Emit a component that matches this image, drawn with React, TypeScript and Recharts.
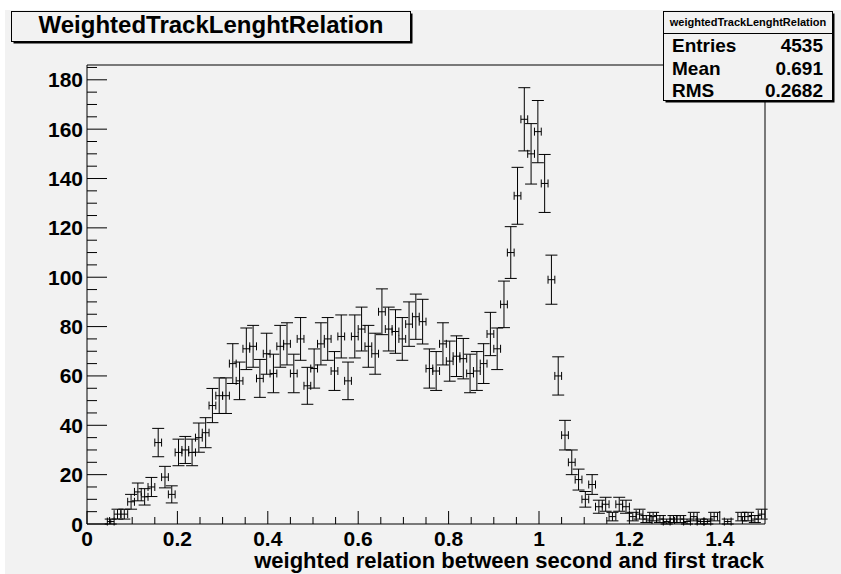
import React from 'react';
import { ScatterChart, Scatter, XAxis, YAxis, ErrorBar, ReferenceArea } from 'recharts';

// histogram settings: 100 bins between 0 and 1.5
const xMin = 0;
const xMax = 1.5;
const binWidth = 0.015;

// bin contents (bin 0 .. bin 99)
const counts = [
  0, 0, 0, 1, 4, 4, 9, 13, 11, 15,
  33, 19, 12, 29, 30, 29, 35, 37, 48, 52,
  52, 65, 58, 71, 72, 59, 69, 61, 72, 73,
  61, 75, 56, 63, 73, 75, 62, 76, 58, 76,
  79, 72, 69, 86, 79, 78, 75, 81, 84, 82,
  63, 62, 73, 66, 68, 67, 61, 62, 65, 77,
  71, 89, 110, 133, 164, 150, 159, 138, 99, 60,
  36, 25, 18, 10, 16, 7, 8, 3, 8, 7,
  3, 4, 2, 3, 2, 1, 2, 2, 1, 3,
  1, 1, 3, 0, 1, 0, 3, 3, 2, 4,
];

const xMajorValues = [0, 0.2, 0.4, 0.6, 0.8, 1, 1.2, 1.4];
const xMajorLabels = ['0', '0.2', '0.4', '0.6', '0.8', '1', '1.2', '1.4'];
const yMajorValues = [0, 20, 40, 60, 80, 100, 120, 140, 160, 180];
const yMajorLabels = ['0', '20', '40', '60', '80', '100', '120', '140', '160', '180'];
const yMax = 186;

const statsLabels = ['Entries', 'Mean', 'RMS'];
const statsValues = ['4535', '0.691', '0.2682'];

const title = 'WeightedTrackLenghtRelation';
const statsTitle = 'weightedTrackLenghtRelation';
const xTitle = 'weighted relation between second and first track';

const FONT = '"Liberation Sans", Arial, Helvetica, sans-serif';
const BG = '#f2f2f2';
const PLOT_LEFT = 87;
const PLOT_BOTTOM = 524;

// minor ticks every 0.05 on x, every 5 on y
const xTicks: number[] = [];
for (let i = 0; i < 30; i++) xTicks.push(Math.round(i * 5) / 100);
const yTicks: number[] = [];
for (let v = 0; v <= 185; v += 5) yTicks.push(v);

const points = counts
  .map((n, i) => ({
    x: xMin + binWidth * (i + 0.5),
    y: n,
    ey: Math.sqrt(n),
    ex: binWidth / 2,
  }))
  .filter((p) => p.y > 0);

const findMajor = (values: number[], v: number) =>
  values.findIndex((m) => Math.abs(m - v) < 1e-6);

const XTick = (props: any) => {
  const { x, payload } = props;
  const idx = findMajor(xMajorValues, payload.value);
  const len = idx >= 0 ? 13 : 7;
  return (
    <g>
      <line x1={x} x2={x} y1={PLOT_BOTTOM} y2={PLOT_BOTTOM - len} stroke="#000" strokeWidth={1} />
      {idx >= 0 && (
        <text x={x} y={PLOT_BOTTOM + 22} textAnchor="middle" fontFamily={FONT} fontWeight="bold" fontSize={21} fill="#000">
          {xMajorLabels[idx]}
        </text>
      )}
    </g>
  );
};

const YTick = (props: any) => {
  const { y, payload } = props;
  const idx = findMajor(yMajorValues, payload.value);
  const len = idx >= 0 ? 20 : 10;
  return (
    <g>
      <line x1={PLOT_LEFT} x2={PLOT_LEFT + len} y1={y} y2={y} stroke="#000" strokeWidth={1} />
      {idx >= 0 && (
        <text x={PLOT_LEFT - 4} y={y + 7.5} textAnchor="end" fontFamily={FONT} fontWeight="bold" fontSize={21} fill="#000">
          {yMajorLabels[idx]}
        </text>
      )}
    </g>
  );
};

const Overlay: React.FC = () => (
  <svg width={841} height={574} style={{ position: 'absolute', left: 0, top: 0, pointerEvents: 'none' }}>
    {/* title box */}
    <rect x={13.5} y={13.5} width={399} height={30} fill="#000" />
    <rect x={11.5} y={11.5} width={399} height={30} fill={BG} stroke="#000" strokeWidth={1} />
    <text x={211} y={32.5} textAnchor="middle" fontFamily={FONT} fontWeight="bold" fontSize={24} fill="#000">
      {title}
    </text>
    {/* stats box */}
    <rect x={665.5} y={13.5} width={169} height={89} fill="#000" />
    <rect x={663.5} y={11.5} width={169} height={89} fill={BG} stroke="#000" strokeWidth={1} />
    <line x1={663.5} x2={832.5} y1={33.5} y2={33.5} stroke="#000" strokeWidth={1} />
    <text x={748} y={26} textAnchor="middle" fontFamily={FONT} fontWeight="bold" fontSize={11} fill="#000">
      {statsTitle}
    </text>
    {statsLabels.map((label, i) => (
      <g key={label}>
        <text x={672} y={52 + i * 22.5} fontFamily={FONT} fontWeight="bold" fontSize={19} fill="#000">
          {label}
        </text>
        <text x={823} y={52 + i * 22.5} textAnchor="end" fontFamily={FONT} fontWeight="bold" fontSize={19} fill="#000">
          {statsValues[i]}
        </text>
      </g>
    ))}
    {/* x axis title */}
    <text x={764} y={568} textAnchor="end" fontFamily={FONT} fontWeight="bold" fontSize={22} fill="#000">
      {xTitle}
    </text>
  </svg>
);

const App: React.FC = () => {
  return (
    <div style={{ position: 'absolute', left: 0, top: 0, width: 841, height: 574, background: '#fff', overflow: 'hidden' }}>
      <div style={{ position: 'absolute', left: 5, top: 10, right: 0, bottom: 0, background: BG }} />
      <div style={{ position: 'absolute', left: 0, top: 0 }}>
        <ScatterChart width={841} height={574} margin={{ top: 65, right: 76, bottom: 0, left: 0 }}>
          <XAxis
            type="number"
            dataKey="x"
            domain={[xMin, xMax]}
            ticks={xTicks}
            interval={0}
            height={50}
            axisLine={false}
            tickLine={false}
            tick={<XTick />}
            allowDataOverflow
          />
          <YAxis
            type="number"
            dataKey="y"
            domain={[0, yMax]}
            ticks={yTicks}
            interval={0}
            width={87}
            axisLine={false}
            tickLine={false}
            tick={<YTick />}
            allowDataOverflow
          />
          <ReferenceArea x1={xMin} x2={xMax} y1={0} y2={yMax} fill="none" stroke="#000" strokeWidth={1} ifOverflow="visible" />
          <Scatter data={points} isAnimationActive={false} shape={() => <g />}>
            <ErrorBar dataKey="ey" direction="y" width={6} stroke="#000" strokeWidth={1} isAnimationActive={false} />
            <ErrorBar dataKey="ex" direction="x" width={4} stroke="#000" strokeWidth={1} isAnimationActive={false} />
          </Scatter>
        </ScatterChart>
      </div>
      <Overlay />
    </div>
  );
};

export default App;
